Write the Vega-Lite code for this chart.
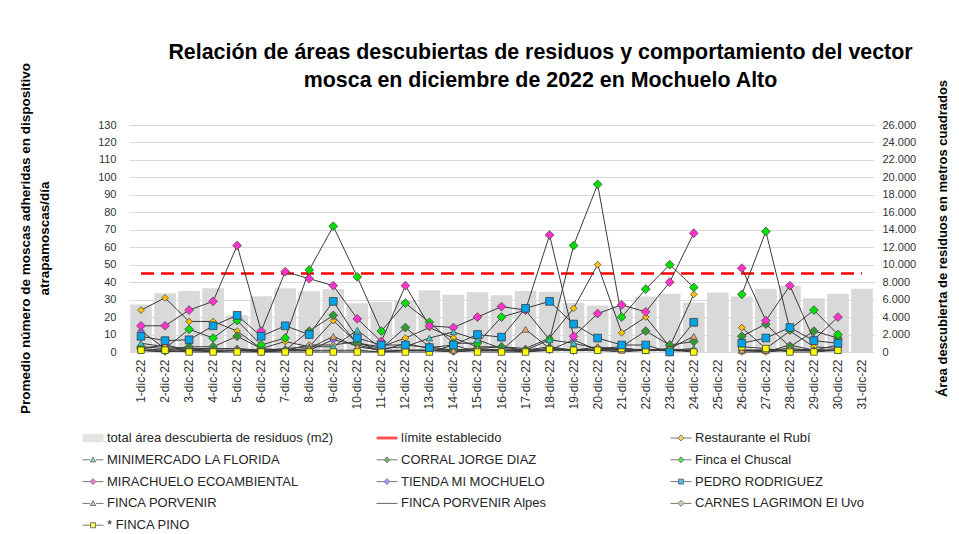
{
  "$schema": "https://vega.github.io/schema/vega-lite/v6.json",
  "autosize": {"type": "none"},
  "padding": {"left": 129, "top": 125, "right": 85, "bottom": 182},
  "width": 745,
  "height": 227,
  "config": {
    "font": "Liberation Sans",
    "locale": {"number": {"decimal": ",", "thousands": ".", "grouping": [3], "currency": ["$", ""]}},
    "view": {"stroke": null}
  },
  "title": {
    "text": ["Relación de áreas descubiertas de residuos y comportamiento del vector", "mosca en diciembre de 2022 en Mochuelo Alto"],
    "fontSize": 21.4, "fontWeight": "bold", "color": "#000000", "anchor": "middle", "frame": "group", "dx": 39, "offset": -29, "lineHeight": 28
  },
  "datasets": {
    "area": [
      {"d": "1-dic-22", "area": 5430}, {"d": "2-dic-22", "area": 6720}, {"d": "3-dic-22", "area": 7000}, {"d": "4-dic-22", "area": 7300},
      {"d": "5-dic-22", "area": 4200}, {"d": "6-dic-22", "area": 6380}, {"d": "7-dic-22", "area": 7300}, {"d": "8-dic-22", "area": 6950},
      {"d": "9-dic-22", "area": 7200}, {"d": "10-dic-22", "area": 5580}, {"d": "11-dic-22", "area": 5740}, {"d": "12-dic-22", "area": 5900},
      {"d": "13-dic-22", "area": 7060}, {"d": "14-dic-22", "area": 6570}, {"d": "15-dic-22", "area": 6840}, {"d": "16-dic-22", "area": 6500},
      {"d": "17-dic-22", "area": 7000}, {"d": "18-dic-22", "area": 6910}, {"d": "19-dic-22", "area": 5620}, {"d": "20-dic-22", "area": 5320},
      {"d": "21-dic-22", "area": 5300}, {"d": "22-dic-22", "area": 6360}, {"d": "23-dic-22", "area": 6670}, {"d": "24-dic-22", "area": 5680},
      {"d": "25-dic-22", "area": 6820}, {"d": "26-dic-22", "area": 6360}, {"d": "27-dic-22", "area": 7240}, {"d": "28-dic-22", "area": 7580},
      {"d": "29-dic-22", "area": 6170}, {"d": "30-dic-22", "area": 6670}, {"d": "31-dic-22", "area": 7240}
    ],
    "limite": [{"d": "1-dic-22", "v": 45}, {"d": "31-dic-22", "v": 45}],
    "moscas": [
      {"d":"1-dic-22","s":"Restaurante el Rubí","v":24},{"d":"2-dic-22","s":"Restaurante el Rubí","v":31},{"d":"3-dic-22","s":"Restaurante el Rubí","v":17.5},{"d":"4-dic-22","s":"Restaurante el Rubí","v":17.5},{"d":"5-dic-22","s":"Restaurante el Rubí","v":12},{"d":"6-dic-22","s":"Restaurante el Rubí","v":2},{"d":"7-dic-22","s":"Restaurante el Rubí","v":6},{"d":"8-dic-22","s":"Restaurante el Rubí","v":3},{"d":"9-dic-22","s":"Restaurante el Rubí","v":18},{"d":"10-dic-22","s":"Restaurante el Rubí","v":5},{"d":"11-dic-22","s":"Restaurante el Rubí","v":3},{"d":"12-dic-22","s":"Restaurante el Rubí","v":8},{"d":"13-dic-22","s":"Restaurante el Rubí","v":14},{"d":"14-dic-22","s":"Restaurante el Rubí","v":8},{"d":"15-dic-22","s":"Restaurante el Rubí","v":3},{"d":"16-dic-22","s":"Restaurante el Rubí","v":3},{"d":"17-dic-22","s":"Restaurante el Rubí","v":2},{"d":"18-dic-22","s":"Restaurante el Rubí","v":8},{"d":"19-dic-22","s":"Restaurante el Rubí","v":25},{"d":"20-dic-22","s":"Restaurante el Rubí","v":50},{"d":"21-dic-22","s":"Restaurante el Rubí","v":11},{"d":"22-dic-22","s":"Restaurante el Rubí","v":20},{"d":"23-dic-22","s":"Restaurante el Rubí","v":3},{"d":"24-dic-22","s":"Restaurante el Rubí","v":33},{"d":"25-dic-22","s":"Restaurante el Rubí","v":null},{"d":"26-dic-22","s":"Restaurante el Rubí","v":14},{"d":"27-dic-22","s":"Restaurante el Rubí","v":2},{"d":"28-dic-22","s":"Restaurante el Rubí","v":12},{"d":"29-dic-22","s":"Restaurante el Rubí","v":3},{"d":"30-dic-22","s":"Restaurante el Rubí","v":2},
      {"d":"1-dic-22","s":"MINIMERCADO LA FLORIDA","v":5},{"d":"2-dic-22","s":"MINIMERCADO LA FLORIDA","v":3},{"d":"3-dic-22","s":"MINIMERCADO LA FLORIDA","v":2},{"d":"4-dic-22","s":"MINIMERCADO LA FLORIDA","v":2},{"d":"5-dic-22","s":"MINIMERCADO LA FLORIDA","v":2},{"d":"6-dic-22","s":"MINIMERCADO LA FLORIDA","v":1},{"d":"7-dic-22","s":"MINIMERCADO LA FLORIDA","v":2},{"d":"8-dic-22","s":"MINIMERCADO LA FLORIDA","v":3},{"d":"9-dic-22","s":"MINIMERCADO LA FLORIDA","v":3},{"d":"10-dic-22","s":"MINIMERCADO LA FLORIDA","v":12.5},{"d":"11-dic-22","s":"MINIMERCADO LA FLORIDA","v":2},{"d":"12-dic-22","s":"MINIMERCADO LA FLORIDA","v":3},{"d":"13-dic-22","s":"MINIMERCADO LA FLORIDA","v":8},{"d":"14-dic-22","s":"MINIMERCADO LA FLORIDA","v":11.5},{"d":"15-dic-22","s":"MINIMERCADO LA FLORIDA","v":7},{"d":"16-dic-22","s":"MINIMERCADO LA FLORIDA","v":2},{"d":"17-dic-22","s":"MINIMERCADO LA FLORIDA","v":1},{"d":"18-dic-22","s":"MINIMERCADO LA FLORIDA","v":7},{"d":"19-dic-22","s":"MINIMERCADO LA FLORIDA","v":5},{"d":"20-dic-22","s":"MINIMERCADO LA FLORIDA","v":2},{"d":"21-dic-22","s":"MINIMERCADO LA FLORIDA","v":2},{"d":"22-dic-22","s":"MINIMERCADO LA FLORIDA","v":1},{"d":"23-dic-22","s":"MINIMERCADO LA FLORIDA","v":1},{"d":"24-dic-22","s":"MINIMERCADO LA FLORIDA","v":2},{"d":"25-dic-22","s":"MINIMERCADO LA FLORIDA","v":null},{"d":"26-dic-22","s":"MINIMERCADO LA FLORIDA","v":1},{"d":"27-dic-22","s":"MINIMERCADO LA FLORIDA","v":1},{"d":"28-dic-22","s":"MINIMERCADO LA FLORIDA","v":1},{"d":"29-dic-22","s":"MINIMERCADO LA FLORIDA","v":1},{"d":"30-dic-22","s":"MINIMERCADO LA FLORIDA","v":1},
      {"d":"1-dic-22","s":"CORRAL JORGE DIAZ","v":2},{"d":"2-dic-22","s":"CORRAL JORGE DIAZ","v":1},{"d":"3-dic-22","s":"CORRAL JORGE DIAZ","v":3},{"d":"4-dic-22","s":"CORRAL JORGE DIAZ","v":3},{"d":"5-dic-22","s":"CORRAL JORGE DIAZ","v":9},{"d":"6-dic-22","s":"CORRAL JORGE DIAZ","v":2},{"d":"7-dic-22","s":"CORRAL JORGE DIAZ","v":1},{"d":"8-dic-22","s":"CORRAL JORGE DIAZ","v":12},{"d":"9-dic-22","s":"CORRAL JORGE DIAZ","v":21},{"d":"10-dic-22","s":"CORRAL JORGE DIAZ","v":5},{"d":"11-dic-22","s":"CORRAL JORGE DIAZ","v":2},{"d":"12-dic-22","s":"CORRAL JORGE DIAZ","v":14},{"d":"13-dic-22","s":"CORRAL JORGE DIAZ","v":3},{"d":"14-dic-22","s":"CORRAL JORGE DIAZ","v":1},{"d":"15-dic-22","s":"CORRAL JORGE DIAZ","v":2},{"d":"16-dic-22","s":"CORRAL JORGE DIAZ","v":3},{"d":"17-dic-22","s":"CORRAL JORGE DIAZ","v":1},{"d":"18-dic-22","s":"CORRAL JORGE DIAZ","v":2},{"d":"19-dic-22","s":"CORRAL JORGE DIAZ","v":1},{"d":"20-dic-22","s":"CORRAL JORGE DIAZ","v":2},{"d":"21-dic-22","s":"CORRAL JORGE DIAZ","v":3},{"d":"22-dic-22","s":"CORRAL JORGE DIAZ","v":12},{"d":"23-dic-22","s":"CORRAL JORGE DIAZ","v":4},{"d":"24-dic-22","s":"CORRAL JORGE DIAZ","v":6},{"d":"25-dic-22","s":"CORRAL JORGE DIAZ","v":null},{"d":"26-dic-22","s":"CORRAL JORGE DIAZ","v":9},{"d":"27-dic-22","s":"CORRAL JORGE DIAZ","v":16},{"d":"28-dic-22","s":"CORRAL JORGE DIAZ","v":3},{"d":"29-dic-22","s":"CORRAL JORGE DIAZ","v":12},{"d":"30-dic-22","s":"CORRAL JORGE DIAZ","v":8},
      {"d":"1-dic-22","s":"Finca el Chuscal","v":3},{"d":"2-dic-22","s":"Finca el Chuscal","v":2},{"d":"3-dic-22","s":"Finca el Chuscal","v":13},{"d":"4-dic-22","s":"Finca el Chuscal","v":8},{"d":"5-dic-22","s":"Finca el Chuscal","v":18},{"d":"6-dic-22","s":"Finca el Chuscal","v":4},{"d":"7-dic-22","s":"Finca el Chuscal","v":8},{"d":"8-dic-22","s":"Finca el Chuscal","v":47},{"d":"9-dic-22","s":"Finca el Chuscal","v":72},{"d":"10-dic-22","s":"Finca el Chuscal","v":43},{"d":"11-dic-22","s":"Finca el Chuscal","v":12},{"d":"12-dic-22","s":"Finca el Chuscal","v":28},{"d":"13-dic-22","s":"Finca el Chuscal","v":17},{"d":"14-dic-22","s":"Finca el Chuscal","v":5},{"d":"15-dic-22","s":"Finca el Chuscal","v":5},{"d":"16-dic-22","s":"Finca el Chuscal","v":20},{"d":"17-dic-22","s":"Finca el Chuscal","v":24},{"d":"18-dic-22","s":"Finca el Chuscal","v":7},{"d":"19-dic-22","s":"Finca el Chuscal","v":61},{"d":"20-dic-22","s":"Finca el Chuscal","v":96},{"d":"21-dic-22","s":"Finca el Chuscal","v":20},{"d":"22-dic-22","s":"Finca el Chuscal","v":36},{"d":"23-dic-22","s":"Finca el Chuscal","v":50},{"d":"24-dic-22","s":"Finca el Chuscal","v":37},{"d":"25-dic-22","s":"Finca el Chuscal","v":null},{"d":"26-dic-22","s":"Finca el Chuscal","v":33},{"d":"27-dic-22","s":"Finca el Chuscal","v":69},{"d":"28-dic-22","s":"Finca el Chuscal","v":13},{"d":"29-dic-22","s":"Finca el Chuscal","v":24},{"d":"30-dic-22","s":"Finca el Chuscal","v":10},
      {"d":"1-dic-22","s":"MIRACHUELO ECOAMBIENTAL","v":15},{"d":"2-dic-22","s":"MIRACHUELO ECOAMBIENTAL","v":15},{"d":"3-dic-22","s":"MIRACHUELO ECOAMBIENTAL","v":24},{"d":"4-dic-22","s":"MIRACHUELO ECOAMBIENTAL","v":29},{"d":"5-dic-22","s":"MIRACHUELO ECOAMBIENTAL","v":61},{"d":"6-dic-22","s":"MIRACHUELO ECOAMBIENTAL","v":12},{"d":"7-dic-22","s":"MIRACHUELO ECOAMBIENTAL","v":46},{"d":"8-dic-22","s":"MIRACHUELO ECOAMBIENTAL","v":42},{"d":"9-dic-22","s":"MIRACHUELO ECOAMBIENTAL","v":38},{"d":"10-dic-22","s":"MIRACHUELO ECOAMBIENTAL","v":19},{"d":"11-dic-22","s":"MIRACHUELO ECOAMBIENTAL","v":6},{"d":"12-dic-22","s":"MIRACHUELO ECOAMBIENTAL","v":38},{"d":"13-dic-22","s":"MIRACHUELO ECOAMBIENTAL","v":15},{"d":"14-dic-22","s":"MIRACHUELO ECOAMBIENTAL","v":14},{"d":"15-dic-22","s":"MIRACHUELO ECOAMBIENTAL","v":20},{"d":"16-dic-22","s":"MIRACHUELO ECOAMBIENTAL","v":26},{"d":"17-dic-22","s":"MIRACHUELO ECOAMBIENTAL","v":24},{"d":"18-dic-22","s":"MIRACHUELO ECOAMBIENTAL","v":67},{"d":"19-dic-22","s":"MIRACHUELO ECOAMBIENTAL","v":9},{"d":"20-dic-22","s":"MIRACHUELO ECOAMBIENTAL","v":22},{"d":"21-dic-22","s":"MIRACHUELO ECOAMBIENTAL","v":27},{"d":"22-dic-22","s":"MIRACHUELO ECOAMBIENTAL","v":23},{"d":"23-dic-22","s":"MIRACHUELO ECOAMBIENTAL","v":40},{"d":"24-dic-22","s":"MIRACHUELO ECOAMBIENTAL","v":68},{"d":"25-dic-22","s":"MIRACHUELO ECOAMBIENTAL","v":null},{"d":"26-dic-22","s":"MIRACHUELO ECOAMBIENTAL","v":48},{"d":"27-dic-22","s":"MIRACHUELO ECOAMBIENTAL","v":18},{"d":"28-dic-22","s":"MIRACHUELO ECOAMBIENTAL","v":38},{"d":"29-dic-22","s":"MIRACHUELO ECOAMBIENTAL","v":7},{"d":"30-dic-22","s":"MIRACHUELO ECOAMBIENTAL","v":20},
      {"d":"1-dic-22","s":"TIENDA MI MOCHUELO","v":12},{"d":"2-dic-22","s":"TIENDA MI MOCHUELO","v":2},{"d":"3-dic-22","s":"TIENDA MI MOCHUELO","v":1},{"d":"4-dic-22","s":"TIENDA MI MOCHUELO","v":1},{"d":"5-dic-22","s":"TIENDA MI MOCHUELO","v":1},{"d":"6-dic-22","s":"TIENDA MI MOCHUELO","v":1},{"d":"7-dic-22","s":"TIENDA MI MOCHUELO","v":1},{"d":"8-dic-22","s":"TIENDA MI MOCHUELO","v":1},{"d":"9-dic-22","s":"TIENDA MI MOCHUELO","v":7},{"d":"10-dic-22","s":"TIENDA MI MOCHUELO","v":4},{"d":"11-dic-22","s":"TIENDA MI MOCHUELO","v":1},{"d":"12-dic-22","s":"TIENDA MI MOCHUELO","v":1},{"d":"13-dic-22","s":"TIENDA MI MOCHUELO","v":1},{"d":"14-dic-22","s":"TIENDA MI MOCHUELO","v":1},{"d":"15-dic-22","s":"TIENDA MI MOCHUELO","v":1},{"d":"16-dic-22","s":"TIENDA MI MOCHUELO","v":1},{"d":"17-dic-22","s":"TIENDA MI MOCHUELO","v":1},{"d":"18-dic-22","s":"TIENDA MI MOCHUELO","v":1},{"d":"19-dic-22","s":"TIENDA MI MOCHUELO","v":7},{"d":"20-dic-22","s":"TIENDA MI MOCHUELO","v":1},{"d":"21-dic-22","s":"TIENDA MI MOCHUELO","v":2},{"d":"22-dic-22","s":"TIENDA MI MOCHUELO","v":1},{"d":"23-dic-22","s":"TIENDA MI MOCHUELO","v":1},{"d":"24-dic-22","s":"TIENDA MI MOCHUELO","v":1},{"d":"25-dic-22","s":"TIENDA MI MOCHUELO","v":null},{"d":"26-dic-22","s":"TIENDA MI MOCHUELO","v":1},{"d":"27-dic-22","s":"TIENDA MI MOCHUELO","v":1},{"d":"28-dic-22","s":"TIENDA MI MOCHUELO","v":1},{"d":"29-dic-22","s":"TIENDA MI MOCHUELO","v":1},{"d":"30-dic-22","s":"TIENDA MI MOCHUELO","v":1},
      {"d":"1-dic-22","s":"PEDRO RODRIGUEZ","v":9},{"d":"2-dic-22","s":"PEDRO RODRIGUEZ","v":6.5},{"d":"3-dic-22","s":"PEDRO RODRIGUEZ","v":7},{"d":"4-dic-22","s":"PEDRO RODRIGUEZ","v":15},{"d":"5-dic-22","s":"PEDRO RODRIGUEZ","v":21},{"d":"6-dic-22","s":"PEDRO RODRIGUEZ","v":9},{"d":"7-dic-22","s":"PEDRO RODRIGUEZ","v":15},{"d":"8-dic-22","s":"PEDRO RODRIGUEZ","v":10},{"d":"9-dic-22","s":"PEDRO RODRIGUEZ","v":29},{"d":"10-dic-22","s":"PEDRO RODRIGUEZ","v":8},{"d":"11-dic-22","s":"PEDRO RODRIGUEZ","v":4},{"d":"12-dic-22","s":"PEDRO RODRIGUEZ","v":4},{"d":"13-dic-22","s":"PEDRO RODRIGUEZ","v":2.5},{"d":"14-dic-22","s":"PEDRO RODRIGUEZ","v":4},{"d":"15-dic-22","s":"PEDRO RODRIGUEZ","v":10},{"d":"16-dic-22","s":"PEDRO RODRIGUEZ","v":8.5},{"d":"17-dic-22","s":"PEDRO RODRIGUEZ","v":25},{"d":"18-dic-22","s":"PEDRO RODRIGUEZ","v":29},{"d":"19-dic-22","s":"PEDRO RODRIGUEZ","v":16},{"d":"20-dic-22","s":"PEDRO RODRIGUEZ","v":8},{"d":"21-dic-22","s":"PEDRO RODRIGUEZ","v":4},{"d":"22-dic-22","s":"PEDRO RODRIGUEZ","v":4},{"d":"23-dic-22","s":"PEDRO RODRIGUEZ","v":0},{"d":"24-dic-22","s":"PEDRO RODRIGUEZ","v":17},{"d":"25-dic-22","s":"PEDRO RODRIGUEZ","v":null},{"d":"26-dic-22","s":"PEDRO RODRIGUEZ","v":5},{"d":"27-dic-22","s":"PEDRO RODRIGUEZ","v":8},{"d":"28-dic-22","s":"PEDRO RODRIGUEZ","v":14},{"d":"29-dic-22","s":"PEDRO RODRIGUEZ","v":6.5},{"d":"30-dic-22","s":"PEDRO RODRIGUEZ","v":5},
      {"d":"1-dic-22","s":"FINCA PORVENIR","v":2},{"d":"2-dic-22","s":"FINCA PORVENIR","v":4},{"d":"3-dic-22","s":"FINCA PORVENIR","v":1},{"d":"4-dic-22","s":"FINCA PORVENIR","v":1},{"d":"5-dic-22","s":"FINCA PORVENIR","v":1},{"d":"6-dic-22","s":"FINCA PORVENIR","v":1},{"d":"7-dic-22","s":"FINCA PORVENIR","v":1},{"d":"8-dic-22","s":"FINCA PORVENIR","v":2},{"d":"9-dic-22","s":"FINCA PORVENIR","v":9},{"d":"10-dic-22","s":"FINCA PORVENIR","v":3},{"d":"11-dic-22","s":"FINCA PORVENIR","v":1},{"d":"12-dic-22","s":"FINCA PORVENIR","v":5},{"d":"13-dic-22","s":"FINCA PORVENIR","v":2},{"d":"14-dic-22","s":"FINCA PORVENIR","v":1},{"d":"15-dic-22","s":"FINCA PORVENIR","v":2},{"d":"16-dic-22","s":"FINCA PORVENIR","v":1},{"d":"17-dic-22","s":"FINCA PORVENIR","v":13},{"d":"18-dic-22","s":"FINCA PORVENIR","v":2},{"d":"19-dic-22","s":"FINCA PORVENIR","v":1},{"d":"20-dic-22","s":"FINCA PORVENIR","v":3},{"d":"21-dic-22","s":"FINCA PORVENIR","v":1},{"d":"22-dic-22","s":"FINCA PORVENIR","v":1},{"d":"23-dic-22","s":"FINCA PORVENIR","v":2},{"d":"24-dic-22","s":"FINCA PORVENIR","v":9},{"d":"25-dic-22","s":"FINCA PORVENIR","v":null},{"d":"26-dic-22","s":"FINCA PORVENIR","v":1},{"d":"27-dic-22","s":"FINCA PORVENIR","v":1},{"d":"28-dic-22","s":"FINCA PORVENIR","v":2},{"d":"29-dic-22","s":"FINCA PORVENIR","v":1},{"d":"30-dic-22","s":"FINCA PORVENIR","v":4},
      {"d":"1-dic-22","s":"FINCA PORVENIR Alpes","v":1},{"d":"2-dic-22","s":"FINCA PORVENIR Alpes","v":0},{"d":"3-dic-22","s":"FINCA PORVENIR Alpes","v":1},{"d":"4-dic-22","s":"FINCA PORVENIR Alpes","v":0},{"d":"5-dic-22","s":"FINCA PORVENIR Alpes","v":1},{"d":"6-dic-22","s":"FINCA PORVENIR Alpes","v":0},{"d":"7-dic-22","s":"FINCA PORVENIR Alpes","v":1},{"d":"8-dic-22","s":"FINCA PORVENIR Alpes","v":1},{"d":"9-dic-22","s":"FINCA PORVENIR Alpes","v":1},{"d":"10-dic-22","s":"FINCA PORVENIR Alpes","v":1},{"d":"11-dic-22","s":"FINCA PORVENIR Alpes","v":0},{"d":"12-dic-22","s":"FINCA PORVENIR Alpes","v":1},{"d":"13-dic-22","s":"FINCA PORVENIR Alpes","v":1},{"d":"14-dic-22","s":"FINCA PORVENIR Alpes","v":0},{"d":"15-dic-22","s":"FINCA PORVENIR Alpes","v":1},{"d":"16-dic-22","s":"FINCA PORVENIR Alpes","v":1},{"d":"17-dic-22","s":"FINCA PORVENIR Alpes","v":0},{"d":"18-dic-22","s":"FINCA PORVENIR Alpes","v":1},{"d":"19-dic-22","s":"FINCA PORVENIR Alpes","v":1},{"d":"20-dic-22","s":"FINCA PORVENIR Alpes","v":1},{"d":"21-dic-22","s":"FINCA PORVENIR Alpes","v":0},{"d":"22-dic-22","s":"FINCA PORVENIR Alpes","v":1},{"d":"23-dic-22","s":"FINCA PORVENIR Alpes","v":1},{"d":"24-dic-22","s":"FINCA PORVENIR Alpes","v":1},{"d":"25-dic-22","s":"FINCA PORVENIR Alpes","v":null},{"d":"26-dic-22","s":"FINCA PORVENIR Alpes","v":1},{"d":"27-dic-22","s":"FINCA PORVENIR Alpes","v":0},{"d":"28-dic-22","s":"FINCA PORVENIR Alpes","v":1},{"d":"29-dic-22","s":"FINCA PORVENIR Alpes","v":1},{"d":"30-dic-22","s":"FINCA PORVENIR Alpes","v":1},
      {"d":"1-dic-22","s":"CARNES LAGRIMON El Uvo","v":1},{"d":"2-dic-22","s":"CARNES LAGRIMON El Uvo","v":0},{"d":"3-dic-22","s":"CARNES LAGRIMON El Uvo","v":1},{"d":"4-dic-22","s":"CARNES LAGRIMON El Uvo","v":2},{"d":"5-dic-22","s":"CARNES LAGRIMON El Uvo","v":2},{"d":"6-dic-22","s":"CARNES LAGRIMON El Uvo","v":0},{"d":"7-dic-22","s":"CARNES LAGRIMON El Uvo","v":1},{"d":"8-dic-22","s":"CARNES LAGRIMON El Uvo","v":4},{"d":"9-dic-22","s":"CARNES LAGRIMON El Uvo","v":4},{"d":"10-dic-22","s":"CARNES LAGRIMON El Uvo","v":6},{"d":"11-dic-22","s":"CARNES LAGRIMON El Uvo","v":0},{"d":"12-dic-22","s":"CARNES LAGRIMON El Uvo","v":1},{"d":"13-dic-22","s":"CARNES LAGRIMON El Uvo","v":1},{"d":"14-dic-22","s":"CARNES LAGRIMON El Uvo","v":0},{"d":"15-dic-22","s":"CARNES LAGRIMON El Uvo","v":1},{"d":"16-dic-22","s":"CARNES LAGRIMON El Uvo","v":1},{"d":"17-dic-22","s":"CARNES LAGRIMON El Uvo","v":1},{"d":"18-dic-22","s":"CARNES LAGRIMON El Uvo","v":3},{"d":"19-dic-22","s":"CARNES LAGRIMON El Uvo","v":1},{"d":"20-dic-22","s":"CARNES LAGRIMON El Uvo","v":1},{"d":"21-dic-22","s":"CARNES LAGRIMON El Uvo","v":1},{"d":"22-dic-22","s":"CARNES LAGRIMON El Uvo","v":1},{"d":"23-dic-22","s":"CARNES LAGRIMON El Uvo","v":1},{"d":"24-dic-22","s":"CARNES LAGRIMON El Uvo","v":1},{"d":"25-dic-22","s":"CARNES LAGRIMON El Uvo","v":null},{"d":"26-dic-22","s":"CARNES LAGRIMON El Uvo","v":0},{"d":"27-dic-22","s":"CARNES LAGRIMON El Uvo","v":0},{"d":"28-dic-22","s":"CARNES LAGRIMON El Uvo","v":4},{"d":"29-dic-22","s":"CARNES LAGRIMON El Uvo","v":1},{"d":"30-dic-22","s":"CARNES LAGRIMON El Uvo","v":1},
      {"d":"1-dic-22","s":"* FINCA PINO","v":1},{"d":"2-dic-22","s":"* FINCA PINO","v":1},{"d":"3-dic-22","s":"* FINCA PINO","v":0},{"d":"4-dic-22","s":"* FINCA PINO","v":0},{"d":"5-dic-22","s":"* FINCA PINO","v":0},{"d":"6-dic-22","s":"* FINCA PINO","v":0},{"d":"7-dic-22","s":"* FINCA PINO","v":0},{"d":"8-dic-22","s":"* FINCA PINO","v":0},{"d":"9-dic-22","s":"* FINCA PINO","v":0},{"d":"10-dic-22","s":"* FINCA PINO","v":0},{"d":"11-dic-22","s":"* FINCA PINO","v":0},{"d":"12-dic-22","s":"* FINCA PINO","v":0},{"d":"13-dic-22","s":"* FINCA PINO","v":0},{"d":"14-dic-22","s":"* FINCA PINO","v":4},{"d":"15-dic-22","s":"* FINCA PINO","v":0},{"d":"16-dic-22","s":"* FINCA PINO","v":0},{"d":"17-dic-22","s":"* FINCA PINO","v":0},{"d":"18-dic-22","s":"* FINCA PINO","v":1.5},{"d":"19-dic-22","s":"* FINCA PINO","v":1},{"d":"20-dic-22","s":"* FINCA PINO","v":1},{"d":"21-dic-22","s":"* FINCA PINO","v":2},{"d":"22-dic-22","s":"* FINCA PINO","v":1},{"d":"23-dic-22","s":"* FINCA PINO","v":1},{"d":"24-dic-22","s":"* FINCA PINO","v":0},{"d":"25-dic-22","s":"* FINCA PINO","v":null},{"d":"26-dic-22","s":"* FINCA PINO","v":3},{"d":"27-dic-22","s":"* FINCA PINO","v":2},{"d":"28-dic-22","s":"* FINCA PINO","v":0},{"d":"29-dic-22","s":"* FINCA PINO","v":0},{"d":"30-dic-22","s":"* FINCA PINO","v":1}
    ]
  },
  "encoding": {
    "x": {
      "field": "d", "type": "ordinal",
      "scale": {"domain": ["1-dic-22","2-dic-22","3-dic-22","4-dic-22","5-dic-22","6-dic-22","7-dic-22","8-dic-22","9-dic-22","10-dic-22","11-dic-22","12-dic-22","13-dic-22","14-dic-22","15-dic-22","16-dic-22","17-dic-22","18-dic-22","19-dic-22","20-dic-22","21-dic-22","22-dic-22","23-dic-22","24-dic-22","25-dic-22","26-dic-22","27-dic-22","28-dic-22","29-dic-22","30-dic-22","31-dic-22"], "paddingInner": 0.1, "paddingOuter": 0.05},
      "axis": {"title": null, "labelAngle": -90, "labelFontSize": 12, "labelColor": "#333333", "ticks": false, "domain": false, "labelPadding": 7}
    }
  },
  "layer": [
    {
      "data": {"name": "area"},
      "mark": {"type": "bar", "color": "#D9D9D9"},
      "encoding": {
        "y": {
          "field": "area", "type": "quantitative",
          "scale": {"domain": [0, 26000], "nice": false},
          "axis": {
            "orient": "right", "values": [0,2000,4000,6000,8000,10000,12000,14000,16000,18000,20000,22000,24000,26000],
            "format": ",d", "grid": false, "ticks": false, "domain": false, "labelPadding": 8, "labelFontSize": 11, "labelColor": "#333333",
            "title": "Área descubierta de residuos en metros cuadrados", "titleAngle": -90, "titleX": 62, "titleY": 113,
            "titleBaseline": "top", "titleAlign": "center", "titleFontSize": 13, "titleFontWeight": "bold", "titleColor": "#000000"
          }
        }
      }
    },
    {
      "encoding": {
        "y": {
          "field": "v", "type": "quantitative",
          "scale": {"domain": [0, 130], "nice": false},
          "axis": {
            "values": [0,10,20,30,40,50,60,70,80,90,100,110,120,130], "grid": true, "gridColor": "#D9D9D9",
            "ticks": false, "domain": false, "labelPadding": 13, "labelFontSize": 11, "labelColor": "#333333",
            "title": ["Promedio número de moscas adheridas en dispositivo", "atrapamoscas/día"],
            "titleAngle": -90, "titleX": -111, "titleY": 113, "titleBaseline": "top", "titleAlign": "center",
            "titleFontSize": 13.5, "titleFontWeight": "bold", "titleColor": "#000000", "titleLineHeight": 19
          }
        }
      },
      "layer": [
        {
          "data": {"name": "limite"},
          "transform": [{"filter": "false"}],
          "mark": {"type": "point", "filled": true},
          "encoding": {
            "color": {"field": "s", "type": "nominal",
              "scale": {"domain": ["total área descubierta de residuos (m2)", "límite establecido", "Restaurante el Rubí", "MINIMERCADO LA FLORIDA", "CORRAL JORGE DIAZ", "Finca el Chuscal", "MIRACHUELO ECOAMBIENTAL", "TIENDA MI MOCHUELO", "PEDRO RODRIGUEZ", "FINCA PORVENIR", "FINCA PORVENIR Alpes", "CARNES LAGRIMON El Uvo", "* FINCA PINO"],
                "range": ["#D9D9D9", "#FF0000", "#FFC000", "#33CCCC", "#339933", "#00DD00", "#FF33CC", "#9966FF", "#00A2E8", "#F4A46A", "#000000", "#D2B48C", "#FFFF00"]},
              "legend": {
                "title": null, "orient": "none", "direction": "horizontal", "legendX": -47, "legendY": 302, "columns": 3, "gridAlign": "all",
                "columnPadding": 40, "rowPadding": 3.8, "symbolSize": 441, "symbolStrokeWidth": 1, "labelFontSize": 13, "labelLimit": 320,
                "labelOffset": 3, "labelColor": "#262626", "padding": 0
              }
            },
            "stroke": {"field": "s", "type": "nominal",
              "scale": {"domain": ["total área descubierta de residuos (m2)", "límite establecido", "Restaurante el Rubí", "MINIMERCADO LA FLORIDA", "CORRAL JORGE DIAZ", "Finca el Chuscal", "MIRACHUELO ECOAMBIENTAL", "TIENDA MI MOCHUELO", "PEDRO RODRIGUEZ", "FINCA PORVENIR", "FINCA PORVENIR Alpes", "CARNES LAGRIMON El Uvo", "* FINCA PINO"],
                "range": ["#D9D9D9", "#FF0000", "#404040", "#404040", "#404040", "#404040", "#404040", "#404040", "#404040", "#404040", "#262626", "#404040", "#404040"]},
              "legend": {
                "title": null, "orient": "none", "direction": "horizontal", "legendX": -47, "legendY": 302, "columns": 3, "gridAlign": "all",
                "columnPadding": 40, "rowPadding": 3.8, "symbolSize": 441, "symbolStrokeWidth": 1, "labelFontSize": 13, "labelLimit": 320,
                "labelOffset": 3, "labelColor": "#262626", "padding": 0
              }
            },
            "shape": {"field": "s", "type": "nominal",
              "scale": {"domain": ["total área descubierta de residuos (m2)", "límite establecido", "Restaurante el Rubí", "MINIMERCADO LA FLORIDA", "CORRAL JORGE DIAZ", "Finca el Chuscal", "MIRACHUELO ECOAMBIENTAL", "TIENDA MI MOCHUELO", "PEDRO RODRIGUEZ", "FINCA PORVENIR", "FINCA PORVENIR Alpes", "CARNES LAGRIMON El Uvo", "* FINCA PINO"],
                "range": [
                  "M-0.95,-0.35H0.95V0.35H-0.95Z",
                  "M-0.95,-0.09H0.95V0.09H-0.95Z",
                  "M-1,0H-0.28M0.28,0H1M0,-0.28L0.28,0L0,0.28L-0.28,0Z",
                  "M-1,0H-0.28M0.28,0H1M0,-0.26L0.26,0.2L-0.26,0.2Z",
                  "M-1,0H-0.28M0.28,0H1M0,-0.28L0.28,0L0,0.28L-0.28,0Z",
                  "M-1,0H-0.28M0.28,0H1M0,-0.28L0.28,0L0,0.28L-0.28,0Z",
                  "M-1,0H-0.28M0.28,0H1M0,-0.28L0.28,0L0,0.28L-0.28,0Z",
                  "M-1,0H-0.28M0.28,0H1M0,-0.28L0.28,0L0,0.28L-0.28,0Z",
                  "M-1,0H-0.24M0.24,0H1M-0.24,-0.24H0.24V0.24H-0.24Z",
                  "M-1,0H-0.28M0.28,0H1M0,-0.26L0.26,0.2L-0.26,0.2Z",
                  "M-1,0H1",
                  "M-1,0H-0.28M0.28,0H1M0,-0.28L0.28,0L0,0.28L-0.28,0Z",
                  "M-1,0H-0.24M0.24,0H1M-0.24,-0.24H0.24V0.24H-0.24Z"
                ]},
              "legend": {
                "title": null, "orient": "none", "direction": "horizontal", "legendX": -47, "legendY": 302, "columns": 3, "gridAlign": "all",
                "columnPadding": 40, "rowPadding": 3.8, "symbolSize": 441, "symbolStrokeWidth": 1, "labelFontSize": 13, "labelLimit": 320,
                "labelOffset": 3, "labelColor": "#262626", "padding": 0
              }
            }
          }
        },
        {
          "data": {"name": "limite"},
          "mark": {"type": "line", "color": "#FF0000", "strokeWidth": 2.5, "strokeDash": [13, 7]}
        },
        {
          "data": {"name": "moscas"},
          "mark": {"type": "line", "color": "#3A3A3A", "strokeWidth": 1, "invalid": "break-paths-show-domains"},
          "encoding": {"detail": {"field": "s"}}
        },
        {
          "data": {"name": "moscas"},
          "transform": [{"filter": {"field": "s", "oneOf": ["Restaurante el Rubí", "TIENDA MI MOCHUELO", "CARNES LAGRIMON El Uvo"]}}],
          "mark": {"type": "point", "shape": "diamond", "size": 46, "filled": true, "opacity": 1, "stroke": "#404040", "strokeWidth": 0.7},
          "encoding": {
            "color": {"field": "s", "type": "nominal",
              "scale": {"domain": ["total área descubierta de residuos (m2)", "límite establecido", "Restaurante el Rubí", "MINIMERCADO LA FLORIDA", "CORRAL JORGE DIAZ", "Finca el Chuscal", "MIRACHUELO ECOAMBIENTAL", "TIENDA MI MOCHUELO", "PEDRO RODRIGUEZ", "FINCA PORVENIR", "FINCA PORVENIR Alpes", "CARNES LAGRIMON El Uvo", "* FINCA PINO"],
                "range": ["#D9D9D9", "#FF0000", "#FFC000", "#33CCCC", "#339933", "#00DD00", "#FF33CC", "#9966FF", "#00A2E8", "#F4A46A", "#000000", "#D2B48C", "#FFFF00"]}}
          }
        },
        {
          "data": {"name": "moscas"},
          "transform": [{"filter": {"field": "s", "oneOf": ["CORRAL JORGE DIAZ", "Finca el Chuscal", "MIRACHUELO ECOAMBIENTAL"]}}],
          "mark": {"type": "point", "shape": "diamond", "size": 78, "filled": true, "opacity": 1, "stroke": "#404040", "strokeWidth": 0.7},
          "encoding": {
            "color": {"field": "s", "type": "nominal",
              "scale": {"domain": ["total área descubierta de residuos (m2)", "límite establecido", "Restaurante el Rubí", "MINIMERCADO LA FLORIDA", "CORRAL JORGE DIAZ", "Finca el Chuscal", "MIRACHUELO ECOAMBIENTAL", "TIENDA MI MOCHUELO", "PEDRO RODRIGUEZ", "FINCA PORVENIR", "FINCA PORVENIR Alpes", "CARNES LAGRIMON El Uvo", "* FINCA PINO"],
                "range": ["#D9D9D9", "#FF0000", "#FFC000", "#33CCCC", "#339933", "#00DD00", "#FF33CC", "#9966FF", "#00A2E8", "#F4A46A", "#000000", "#D2B48C", "#FFFF00"]}}
          }
        },
        {
          "data": {"name": "moscas"},
          "transform": [{"filter": {"field": "s", "oneOf": ["MINIMERCADO LA FLORIDA", "FINCA PORVENIR"]}}],
          "mark": {"type": "point", "shape": "triangle-up", "size": 45, "filled": true, "opacity": 1, "stroke": "#404040", "strokeWidth": 0.7},
          "encoding": {
            "color": {"field": "s", "type": "nominal",
              "scale": {"domain": ["total área descubierta de residuos (m2)", "límite establecido", "Restaurante el Rubí", "MINIMERCADO LA FLORIDA", "CORRAL JORGE DIAZ", "Finca el Chuscal", "MIRACHUELO ECOAMBIENTAL", "TIENDA MI MOCHUELO", "PEDRO RODRIGUEZ", "FINCA PORVENIR", "FINCA PORVENIR Alpes", "CARNES LAGRIMON El Uvo", "* FINCA PINO"],
                "range": ["#D9D9D9", "#FF0000", "#FFC000", "#33CCCC", "#339933", "#00DD00", "#FF33CC", "#9966FF", "#00A2E8", "#F4A46A", "#000000", "#D2B48C", "#FFFF00"]}}
          }
        },
        {
          "data": {"name": "moscas"},
          "transform": [{"filter": {"field": "s", "equal": "* FINCA PINO"}}],
          "mark": {"type": "point", "shape": "square", "size": 42, "filled": true, "opacity": 1, "stroke": "#404040", "strokeWidth": 0.8},
          "encoding": {
            "color": {"field": "s", "type": "nominal",
              "scale": {"domain": ["total área descubierta de residuos (m2)", "límite establecido", "Restaurante el Rubí", "MINIMERCADO LA FLORIDA", "CORRAL JORGE DIAZ", "Finca el Chuscal", "MIRACHUELO ECOAMBIENTAL", "TIENDA MI MOCHUELO", "PEDRO RODRIGUEZ", "FINCA PORVENIR", "FINCA PORVENIR Alpes", "CARNES LAGRIMON El Uvo", "* FINCA PINO"],
                "range": ["#D9D9D9", "#FF0000", "#FFC000", "#33CCCC", "#339933", "#00DD00", "#FF33CC", "#9966FF", "#00A2E8", "#F4A46A", "#000000", "#D2B48C", "#FFFF00"]}}
          }
        },
        {
          "data": {"name": "moscas"},
          "transform": [{"filter": {"field": "s", "equal": "PEDRO RODRIGUEZ"}}],
          "mark": {"type": "point", "shape": "square", "size": 60, "filled": true, "opacity": 1, "stroke": "#404040", "strokeWidth": 0.8},
          "encoding": {
            "color": {"field": "s", "type": "nominal",
              "scale": {"domain": ["total área descubierta de residuos (m2)", "límite establecido", "Restaurante el Rubí", "MINIMERCADO LA FLORIDA", "CORRAL JORGE DIAZ", "Finca el Chuscal", "MIRACHUELO ECOAMBIENTAL", "TIENDA MI MOCHUELO", "PEDRO RODRIGUEZ", "FINCA PORVENIR", "FINCA PORVENIR Alpes", "CARNES LAGRIMON El Uvo", "* FINCA PINO"],
                "range": ["#D9D9D9", "#FF0000", "#FFC000", "#33CCCC", "#339933", "#00DD00", "#FF33CC", "#9966FF", "#00A2E8", "#F4A46A", "#000000", "#D2B48C", "#FFFF00"]}}
          }
        }
      ]
    }
  ],
  "resolve": {"scale": {"y": "independent"}}
}
